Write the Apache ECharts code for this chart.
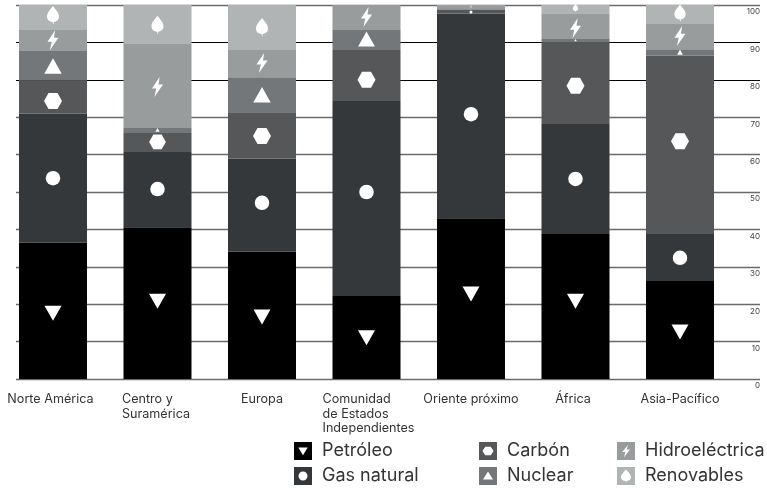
<!DOCTYPE html>
<html><head><meta charset="utf-8">
<style>html,body{margin:0;padding:0;background:#fff}#c{width:767px;height:490px}</style>
<script src="https://cdn.jsdelivr.net/npm/echarts@6/dist/echarts.min.js"></script>
</head><body><div id="c"></div>
<script>
const categories = ['Norte América','Centro y\nSuramérica','Europa','Comunidad\nde Estados\nIndependientes','Oriente próximo','África','Asia-Pacífico'];
const petroleo = [36.4,40.6,34.0,22.2,43.0,38.8,26.2];
const gasNatural = [34.5,20.1,24.9,52.1,54.7,29.4,12.6];
const carbon = [8.9,5.1,12.2,13.7,1.0,21.9,47.6];
const nuclear = [7.9,1.3,9.6,5.3,0.2,0.8,1.8];
const hidro = [5.6,22.5,7.5,6.7,0.9,6.7,6.7];
const renovables = [6.7,10.4,11.8,0,0.2,2.4,5.1];
// height at which each segment's marker sits
const posPetroleo = [17.6,20.8,16.6,11.0,22.7,20.8,12.6];
const posGas = [53.7,50.8,47.1,50.0,70.8,53.5,32.4];
const posCarbon = [74.3,63.4,65.0,80.0,98.1,78.4,63.6];
const posNuclear = [83.7,66.6,76.0,90.9,98.9,90.6,87.4];
const posHidro = [90.6,78.1,84.5,96.8,99.5,93.8,91.7];
const posRenovables = [97.3,94.7,94.1,null,99.9,99.2,97.9];
const yTicks = [0,10,20,30,40,50,60,70,80,90,100];
const FONT = 'Inter';

const glyphs = {
  down:'path://M0 0L100 0L50 85Z',
  circle:'circle',
  hex:'path://M25 0L75 0L100 50L75 100L25 100L0 50Z',
  up:'path://M50 0L100 85L0 85Z',
  bolt:'path://M68 0L4 58L40 58L24 100L96 38L58 38Z',
  leaf:'path://M50 0C65 15 100 35 100 58C100 76 80 88 55 88L56 100L50 100L47 88C20 88 0 76 0 58C0 35 35 15 50 0Z'
};
const sq='M0 0L100 0L100 100L0 100Z';
const icons = {
  down:'path://'+sq+'M24 30L50 74L76 30Z',
  circle:'path://'+sq+'M50 25A25 25 0 0 0 50 75A25 25 0 0 0 50 25Z',
  hex:'path://'+sq+'M35 27L19 50L35 73L65 73L81 50L65 27Z',
  up:'path://'+sq+'M50 25L22 70L78 70Z',
  bolt:'path://'+sq+'M62 16L28 55L47 55L38 86L72 42L53 42Z',
  leaf:'path://'+sq+'M50 14C35 30 22 42 22 56C22 71 36 79 48 79L50 88L52 79C64 79 78 71 78 56C78 42 65 30 50 14Z'
};
const defs = [
  {name:'Petróleo',data:petroleo,pos:posPetroleo,color:'#000000',g:'down',w:17,h:15},
  {name:'Gas natural',data:gasNatural,pos:posGas,color:'#35383a',g:'circle',w:14.5,h:14.5},
  {name:'Carbón',data:carbon,pos:posCarbon,color:'#555759',g:'hex',w:18,h:16},
  {name:'Nuclear',data:nuclear,pos:posNuclear,color:'#73777a',g:'up',w:17.5,h:15.5},
  {name:'Hidroeléctrica',data:hidro,pos:posHidro,color:'#999c9c',g:'bolt',w:11,h:20},
  {name:'Renovables',data:renovables,pos:posRenovables,color:'#b1b4b4',g:'leaf',w:12,h:18}
];

const series = [];
defs.forEach(d=>series.push({
  name:d.name,type:'bar',stack:'t',xAxisIndex:0,yAxisIndex:0,barWidth:68,
  data:d.data,itemStyle:{color:d.color,borderWidth:0},emphasis:{disabled:true},z:3,silent:true
}));
defs.forEach(d=>{
  const pts=[];
  d.data.forEach((v,i)=>{
    if(v>0) pts.push({value:[i,d.pos[i]],seg:v});
  });
  series.push({
    type:'scatter',xAxisIndex:0,yAxisIndex:0,z:5,silent:true,
    symbol:glyphs[d.g],
    symbolSize:(val,p)=>{const s=Math.min(1,p.data.seg/5.5);return [d.w*s,d.h*s];},
    itemStyle:{color:'#fff',opacity:1},data:pts
  });
});

const legendCommon = {orient:'vertical',itemWidth:18,itemHeight:18,itemGap:7,selectedMode:false,
  textStyle:{fontFamily:FONT,fontSize:18,color:'#333',padding:[0,0,0,5]}};
const legItem = d=>({name:d.name,icon:icons[d.g]});
const colLeft=[294,479,617];
const legends=[0,1,2].map(c=>Object.assign({},legendCommon,{
  left:colLeft[c],top:442,padding:0,
  data:defs.slice(c*2,c*2+2).map(legItem)
}));

const base={fontFamily:FONT,fontSize:12.6,color:'#333',lineHeight:14.5,align:'left'};
const rich={
  l:base,
  n:Object.assign({},base,{padding:[0,5,0,0]}),
  c:Object.assign({},base,{padding:[0,3,0,0]}),
  m:Object.assign({},base,{padding:[0,0,0,4]})
};
const tokenFor=['n','c','l','m','l','n','l'];
const grayLines=yTicks.map(v=>(v===80||v===90)?'transparent':'#6a6a6a');
const blackLines=yTicks.map(v=>(v===80||v===90)?'#000':'transparent');
const option={
  animation:false,backgroundColor:'#fff',
  legend:legends,
  grid:[
    {left:0.75,width:731.5,top:5,height:374,containLabel:false},
    {left:16,width:744,top:5,height:374,containLabel:false}
  ],
  xAxis:[
    {type:'category',gridIndex:0,data:categories,axisLine:{show:false},axisTick:{show:false},splitLine:{show:false},
     axisLabel:{interval:0,margin:13,fontFamily:FONT,fontSize:12.6,color:'#333',lineHeight:14.5,verticalAlign:'top',
       formatter:(v,i)=>v.split('\n').map(x=>'{'+tokenFor[i]+'|'+x+'}').join('\n'),
       rich:rich,align:'center'}},
    {type:'value',gridIndex:1,min:0,max:1,show:false}
  ],
  yAxis:[
    {type:'value',gridIndex:0,min:0,max:100,show:false},
    {type:'value',gridIndex:1,min:0,max:100,interval:10,position:'right',
     axisLine:{show:false},axisTick:{show:false},
     axisLabel:{inside:true,margin:0,align:'right',verticalAlign:'top',padding:[3,0,0,0],fontFamily:FONT,fontSize:8,color:'#444',
       showMinLabel:true,showMaxLabel:true,formatter:v=>yTicks.includes(v)?String(v):''},
     splitLine:{show:true,lineStyle:{width:1.4,color:grayLines}}},
    {type:'value',gridIndex:1,min:0,max:100,interval:10,position:'left',
     axisLine:{show:false},axisTick:{show:false},axisLabel:{show:false},
     splitLine:{show:true,lineStyle:{width:1,color:blackLines}}}
  ],
  series:series
};
echarts.init(document.getElementById('c'),null,{renderer:'canvas'}).setOption(option);
</script></body></html>
